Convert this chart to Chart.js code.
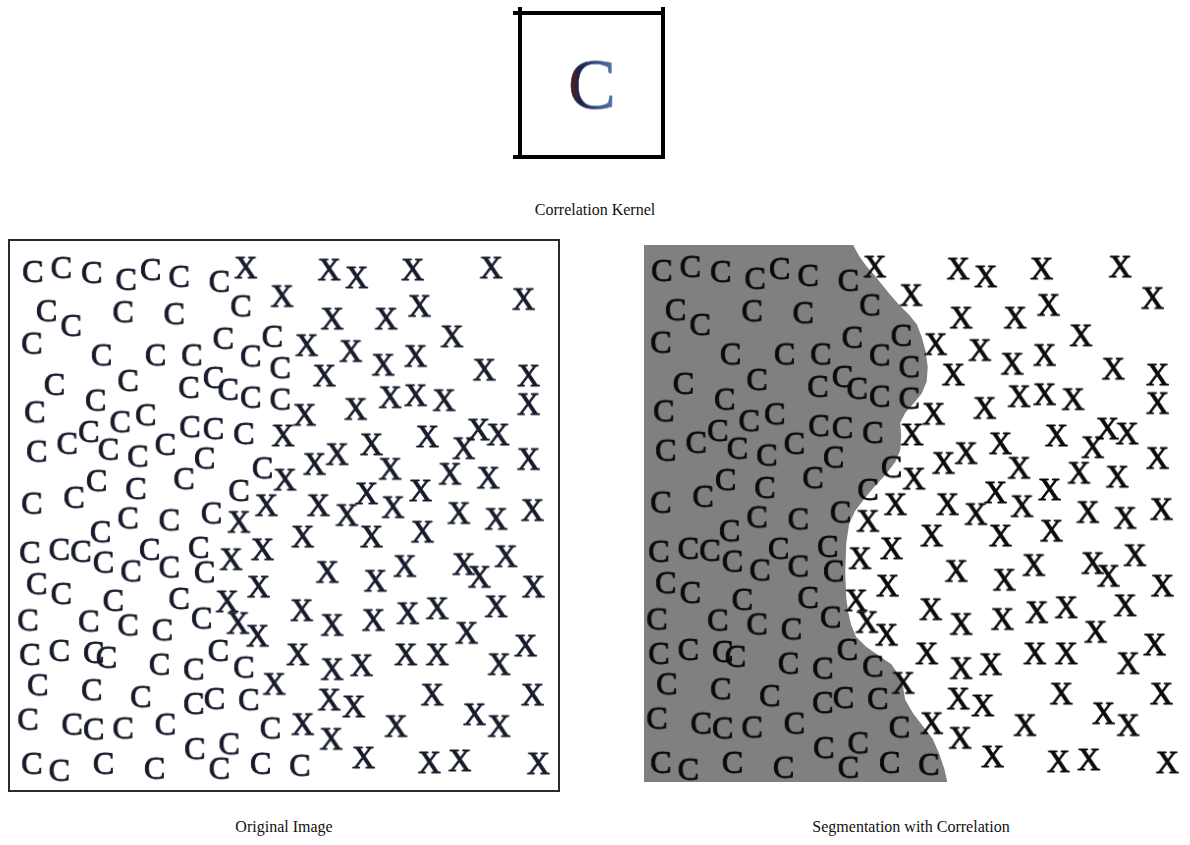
<!DOCTYPE html>
<html><head><meta charset="utf-8">
<script src="https://cdn.jsdelivr.net/npm/chart.js@4.4.1/dist/chart.umd.min.js"></script>
<style>
html,body{margin:0;padding:0;background:#fff;width:1190px;height:845px;overflow:hidden;position:relative;font-family:"Liberation Serif","Times New Roman",serif;}
.abs{position:absolute;}
.blk{position:absolute;background:#000;}
.cap{position:absolute;font-size:16px;line-height:16px;color:#111;white-space:nowrap;transform:translateX(-50%);}
canvas{position:absolute;}
</style></head><body>
<!-- kernel frame -->
<div class="abs" style="left:518px;top:11px;width:139px;height:140px;border:4px solid #000;"></div>
<div class="blk" style="left:513px;top:11px;width:6px;height:4px;"></div>
<div class="blk" style="left:513px;top:155px;width:6px;height:4px;"></div>
<div class="blk" style="left:518px;top:7px;width:4px;height:5px;"></div>
<div class="blk" style="left:661px;top:7px;width:4px;height:5px;"></div>
<canvas id="kernel" width="147" height="148" style="left:518px;top:11px;"></canvas>
<div class="cap" style="left:595px;top:202px;">Correlation Kernel</div>
<!-- left frame -->
<div class="abs" style="left:8px;top:239px;width:548px;height:549px;border:2px solid #2a2a2a;"></div>
<canvas id="orig" width="548" height="549" style="left:10px;top:241px;"></canvas>
<canvas id="seg" width="548" height="549" style="left:639px;top:240px;"></canvas>
<div class="cap" style="left:284px;top:819px;">Original Image</div>
<div class="cap" style="left:911px;top:819px;">Segmentation with Correlation</div>
<script>
// ---- data (image coordinates of letter centres) ----
const cLetterX = [28,57,88,123,148,177,218, 42,67,120,172,240, 27,98,153,190,222,250,272,280,
  50,125,92,187,212,227,250,280,30, 32,63,85,105,117,143,135,163,188,212,243,
  203,262,93,70,133,182,238,27, 125,167,210,97,
  25,55,77,100,128,147,167,197,203, 32,57,110,177, 23,85,125,160,200,
  25,55,90,103,157,192,217,243, 33,88,138,192,213,248, 23,68,90,120,163,270,
  193,228,27,55,100,152,218,260,300];
const cLetterY = [267,263,268,275,265,272,277, 307,322,308,310,302, 340,352,352,352,335,353,333,365,
  382,378,398,385,375,387,395,397,410, 450,442,430,448,420,413,455,443,425,427,432,
  457,467,480,497,488,478,490,503, 518,520,513,532,
  553,550,552,563,572,550,568,548,573, 585,595,602,600, 622,623,627,632,620,
  657,653,655,660,667,672,653,670, 688,693,700,707,702,703, 723,728,733,732,728,732,
  753,748,768,775,768,773,773,768,770];
const xLetterX = [245,282,283,285,266,
  330,358,415,495,528,422,333,388,455,
  307,352,385,418,488,533,325,
  305,357,392,418,447,533,
  430,467,482,502,533,315,338,373,392,453,492,
  319,348,368,395,423,462,500,537,
  238,230,262,226,258,237,257,274,
  303,373,425,510,328,377,407,467,483,538,
  302,333,375,410,440,500,470,
  298,333,363,408,440,503,530,
  330,355,435,537,303,332,398,478,503,
  365,432,463,543];
const xLetterY = [263,292,434,479,505,
  265,273,265,263,295,302,315,315,333,
  342,348,362,353,367,373,373,
  413,407,395,393,398,402,
  435,447,428,433,458,463,453,443,468,473,477,
  505,515,493,507,490,513,519,510,
  522,560,550,603,588,625,638,687,
  537,537,532,557,573,582,567,565,578,588,
  612,627,622,615,610,608,635,
  657,672,668,657,657,667,648,
  703,710,698,698,728,743,730,718,730,
  762,767,765,768];
// segmented (grey) region: left edge of image + correlation boundary
const regionX = [10,223,229,236,245,253,261,270,280,288,293,297,299,298,293,285,276,271,272,271,266,256,244,234,225,219,216,215,216,218,221,226,236,250,262,270,274,276,284,294,304,311,316,319,10,10];
const regionY = [241,241,252,262,272,282,292,302,312,322,335,350,365,380,392,402,412,422,435,450,462,475,488,500,512,525,545,575,600,615,628,640,650,660,668,680,692,704,718,731,744,760,775,788,788,241];
const kernelX = [0];
const kernelY = [0];
const imgXRange = [10, 558];
const imgYRange = [241, 790];

// ---- letter glyphs used as point styles ----
function letterImage(ch, size, fill, stroke) {
  const font = size + 'px "Liberation Serif", "Times New Roman", serif';
  const probe = document.createElement('canvas').getContext('2d');
  probe.font = font;
  const m = probe.measureText(ch);
  const bw = m.actualBoundingBoxLeft + m.actualBoundingBoxRight;
  const bh = m.actualBoundingBoxAscent + m.actualBoundingBoxDescent;
  const pad = 3;
  const c = document.createElement('canvas');
  c.width = Math.ceil(bw) + pad * 2;
  c.height = Math.ceil(bh) + pad * 2;
  const ctx = c.getContext('2d');
  ctx.font = font;
  ctx.textBaseline = 'alphabetic';
  ctx.textAlign = 'left';
  const style = typeof fill === 'function' ? fill(ctx, c) : fill;
  ctx.fillStyle = style;
  const tx = pad + m.actualBoundingBoxLeft + (c.width - 2 * pad - bw) / 2;
  const ty = pad + m.actualBoundingBoxAscent + (c.height - 2 * pad - bh) / 2;
  ctx.fillText(ch, tx, ty);
  if (stroke) {
    ctx.strokeStyle = style;
    ctx.lineWidth = stroke;
    ctx.lineJoin = 'round';
    ctx.strokeText(ch, tx, ty);
  }
  return c;
}
const LETTER = 32;
const navy = '#161b2b';
const imgC1 = letterImage('C', LETTER, navy, 0.9);
const imgX1 = letterImage('X', LETTER, navy, 0.9);
const imgC2 = letterImage('C', LETTER, '#0a0a0a', 0.9);
const imgX2 = letterImage('X', LETTER, '#0a0a0a', 0.9);
const imgK = letterImage('C', 72, (ctx, c) => {
  const g = ctx.createLinearGradient(0, 0, c.width, 0);
  g.addColorStop(0, '#6a1a08');
  g.addColorStop(0.3, '#14255a');
  g.addColorStop(1, '#5c7fae');
  return g;
}, 0.6);

const pts = (xs, ys) => xs.map((x, i) => ({x: x, y: ys[i]}));

function baseOptions(xr, yr) {
  return {
    responsive: false, animation: false, events: [],
    layout: {padding: 0},
    plugins: {legend: {display: false}, tooltip: {enabled: false}, title: {display: false}},
    scales: {
      x: {type: 'linear', min: xr[0], max: xr[1], display: false},
      y: {type: 'linear', min: yr[0], max: yr[1], reverse: true, display: false}
    }
  };
}

function letterSets(ic, ix) {
  return [
    {label: 'C', data: pts(cLetterX, cLetterY), pointStyle: ic, pointRadius: 3, showLine: false},
    {label: 'X', data: pts(xLetterX, xLetterY), pointStyle: ix, pointRadius: 3, showLine: false}
  ];
}

new Chart(document.getElementById('orig'), {
  type: 'scatter',
  data: {datasets: letterSets(imgC1, imgX1)},
  options: baseOptions(imgXRange, imgYRange)
});

new Chart(document.getElementById('seg'), {
  type: 'scatter',
  data: {datasets: letterSets(imgC2, imgX2).concat([{
    label: 'segmented', data: pts(regionX, regionY), showLine: true, fill: 'shape',
    backgroundColor: '#808080', borderColor: 'rgba(0,0,0,0)', borderWidth: 0,
    pointRadius: 0, tension: 0
  }])},
  options: baseOptions(imgXRange, imgYRange)
});

new Chart(document.getElementById('kernel'), {
  type: 'scatter',
  data: {datasets: [{label: 'kernel', data: pts(kernelX, kernelY), pointStyle: imgK, pointRadius: 3}]},
  options: baseOptions([-1, 1], [-1, 1])
});
</script>
</body></html>
